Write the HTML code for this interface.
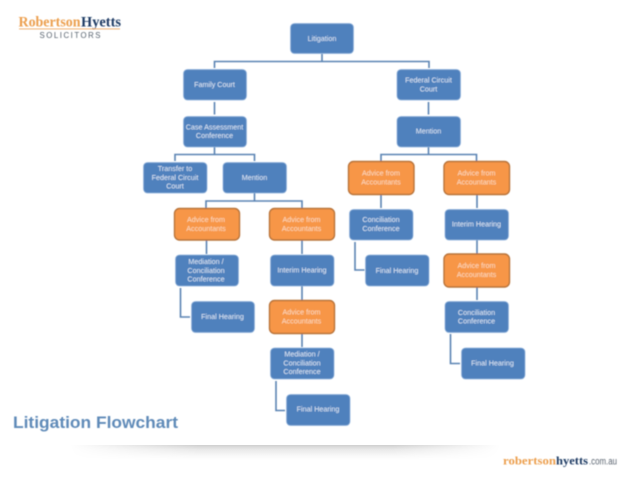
<!DOCTYPE html>
<html><head><meta charset="utf-8"><style>
html,body{margin:0;padding:0;background:#fff;width:638px;height:479px;overflow:hidden}
svg{display:block}
.b{fill:#4f81bd;stroke:#8fb2dc;stroke-width:.7}
.o{fill:#f79646;stroke:#b8733a;stroke-width:1.4}
.l{fill:none;stroke:#5a83b3;stroke-width:1.6}
.t{font:7.2px "Liberation Sans",sans-serif;fill:#dfe9f6;text-anchor:middle}
.u{font:7.2px "Liberation Sans",sans-serif;fill:#fbdcc2;text-anchor:middle}
</style></head><body>
<svg width="638" height="479" viewBox="0 0 638 479" xmlns="http://www.w3.org/2000/svg">
<defs>
<linearGradient id="v" x1="0" y1="0" x2="0" y2="1"><stop offset="0" stop-color="#cfcfcf"/><stop offset=".3" stop-color="#e9e9e9"/><stop offset=".7" stop-color="#f8f8f8"/><stop offset="1" stop-color="#fff"/></linearGradient>
<linearGradient id="h" x1="0" y1="0" x2="1" y2="0"><stop offset="0" stop-color="#000"/><stop offset=".3" stop-color="#fff"/><stop offset=".75" stop-color="#fff"/><stop offset="1" stop-color="#000"/></linearGradient>
<mask id="m"><rect x="70" y="444" width="430" height="20" fill="url(#h)"/></mask>
<filter id="s"><feGaussianBlur stdDeviation=".45"/></filter>
</defs>
<rect x="70" y="445" width="430" height="15" fill="url(#v)" mask="url(#m)"/>
<g filter="url(#s)">
<!-- logo -->
<text x="18.500" y="26.500" font-family="Liberation Serif,serif" font-size="14.500" font-weight="bold" fill="#ec9f4e" textLength="62" lengthAdjust="spacingAndGlyphs">Robertson</text>
<text x="81" y="26.500" font-family="Liberation Serif,serif" font-size="14.500" font-weight="bold" fill="#1f3a63" textLength="40" lengthAdjust="spacingAndGlyphs">Hyetts</text>
<rect x="19" y="28.500" width="101" height=".8" fill="#ec9f4e"/>
<text x="39.500" y="37.800" font-family="Liberation Sans,sans-serif" font-size="7.800" fill="#55606c" textLength="61">SOLICITORS</text>
<!-- connectors -->
<path class="l" d="M322 54V61.500M214.500 68V61.500H429V68"/>
<path class="l" d="M214.500 102V114.500M428.500 102V114.500"/>
<path class="l" d="M214.500 147V154.500M175 161V154.500H254.500V161"/>
<path class="l" d="M254.500 193V201M206 208V201H302V208"/>
<path class="l" d="M428.500 147V154.500M381 161V154.500H476.500V161"/>
<path class="l" d="M206.500 240V254M302 240V254M302 286V300M302 334V347"/>
<path class="l" d="M381 195V208M477 195V208M477 240V254M477 287V300"/>
<path class="l" d="M180.500 288V317H190M276 381V410.500H285M355 242V270H364.500M450.500 334V363.500H460"/>
<!-- blue boxes -->
<rect class="b" x="290.500" y="23.500" width="63" height="30" rx="4"/>
<rect class="b" x="183.500" y="69.500" width="63" height="30.500" rx="4"/>
<rect class="b" x="183.500" y="116.500" width="63" height="30.500" rx="4"/>
<rect class="b" x="143.500" y="162.500" width="63.500" height="30.500" rx="4"/>
<rect class="b" x="223" y="162.500" width="63.500" height="30.500" rx="4"/>
<rect class="b" x="175.500" y="255" width="63" height="31" rx="4"/>
<rect class="b" x="270.500" y="255" width="63.500" height="31" rx="4"/>
<rect class="b" x="191.500" y="301.500" width="63" height="31" rx="4"/>
<rect class="b" x="270.500" y="348" width="63.500" height="31" rx="4"/>
<rect class="b" x="286.500" y="394.500" width="63.500" height="31" rx="4"/>
<rect class="b" x="397" y="69.500" width="63.500" height="30.500" rx="4"/>
<rect class="b" x="397" y="116.500" width="63.500" height="30.500" rx="4"/>
<rect class="b" x="349.500" y="209.500" width="63.500" height="30.500" rx="4"/>
<rect class="b" x="445" y="209.500" width="63.500" height="30.500" rx="4"/>
<rect class="b" x="365.500" y="255" width="63.500" height="31" rx="4"/>
<rect class="b" x="445" y="301.500" width="63.500" height="31" rx="4"/>
<rect class="b" x="461.500" y="348" width="63.500" height="31" rx="4"/>
<!-- orange boxes -->
<rect class="o" x="174.500" y="208.500" width="65" height="31.500" rx="5"/>
<rect class="o" x="269.500" y="208.500" width="65" height="31.500" rx="5"/>
<rect class="o" x="269.500" y="300.500" width="65" height="33" rx="5"/>
<rect class="o" x="348.500" y="161.500" width="65.500" height="33" rx="5"/>
<rect class="o" x="444" y="161.500" width="65.500" height="33" rx="5"/>
<rect class="o" x="444" y="254" width="65.500" height="33" rx="5"/>
<!-- labels -->
<text class="t" x="322" y="41">Litigation</text>
<text class="t" x="214.500" y="87">Family Court</text>
<text class="t" x="214.500" y="129.500">Case Assessment</text><text class="t" x="214.500" y="138">Conference</text>
<text class="t" x="175" y="171">Transfer to</text><text class="t" x="175" y="180">Federal Circuit</text><text class="t" x="175" y="188.500">Court</text>
<text class="t" x="254.500" y="180">Mention</text>
<text class="u" x="206" y="222">Advice from</text><text class="u" x="206" y="231">Accountants</text>
<text class="u" x="301.500" y="222">Advice from</text><text class="u" x="301.500" y="231">Accountants</text>
<text class="t" x="206" y="264">Mediation /</text><text class="t" x="206" y="273">Conciliation</text><text class="t" x="206" y="281.500">Conference</text>
<text class="t" x="302" y="272.500">Interim Hearing</text>
<text class="t" x="222.500" y="319">Final Hearing</text>
<text class="u" x="301.500" y="314.500">Advice from</text><text class="u" x="301.500" y="323.500">Accountants</text>
<text class="t" x="302" y="356.500">Mediation /</text><text class="t" x="302" y="365.500">Conciliation</text><text class="t" x="302" y="374">Conference</text>
<text class="t" x="318" y="411.500">Final Hearing</text>
<text class="t" x="428.500" y="82.500">Federal Circuit</text><text class="t" x="428.500" y="91.500">Court</text>
<text class="t" x="428.500" y="133.500">Mention</text>
<text class="u" x="381" y="175.500">Advice from</text><text class="u" x="381" y="184.500">Accountants</text>
<text class="u" x="476.500" y="175.500">Advice from</text><text class="u" x="476.500" y="184.500">Accountants</text>
<text class="t" x="381" y="222">Conciliation</text><text class="t" x="381" y="231">Conference</text>
<text class="t" x="476.500" y="226.500">Interim Hearing</text>
<text class="t" x="397" y="273">Final Hearing</text>
<text class="u" x="476.500" y="268">Advice from</text><text class="u" x="476.500" y="277">Accountants</text>
<text class="t" x="476.500" y="315">Conciliation</text><text class="t" x="476.500" y="323.500">Conference</text>
<text class="t" x="492.500" y="365.500">Final Hearing</text>
<!-- title -->
<text x="13" y="428" font-family="Liberation Sans,sans-serif" font-size="17" font-weight="bold" fill="#5f8ab8" textLength="165" lengthAdjust="spacingAndGlyphs">Litigation Flowchart</text>
<!-- footer logo -->
<text x="503" y="464.500" font-family="Liberation Serif,serif" font-size="12" font-weight="bold" fill="#ec9f4e" textLength="53" lengthAdjust="spacingAndGlyphs">robertson</text>
<text x="556" y="464.500" font-family="Liberation Serif,serif" font-size="12" font-weight="bold" fill="#1f3a63" textLength="32" lengthAdjust="spacingAndGlyphs">hyetts</text>
<text x="589" y="464.500" font-family="Liberation Sans,sans-serif" font-size="10" fill="#5a6470" textLength="28" lengthAdjust="spacingAndGlyphs">.com.au</text>
</g>
</svg>
</body></html>
